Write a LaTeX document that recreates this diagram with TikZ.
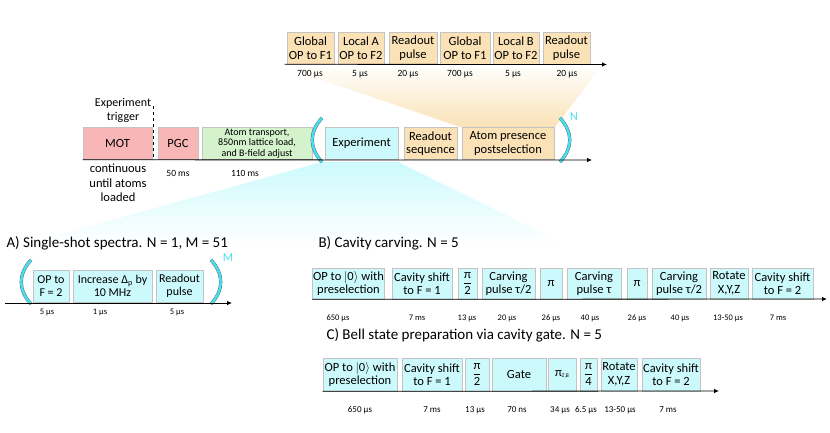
\documentclass[tikz,border=0pt]{standalone}
\usepackage{fontspec}
\setmainfont{Carlito}
\usepackage{amsmath}
\usetikzlibrary{arrows.meta}
\definecolor{beige}{RGB}{250,226,182}
\definecolor{pinkbox}{RGB}{248,182,182}
\definecolor{greenbox}{RGB}{212,242,204}
\definecolor{cyanbox}{RGB}{204,250,252}
\definecolor{cyanline}{RGB}{70,222,236}
\definecolor{boxline}{RGB}{195,195,195}

\begin{document}
\begin{tikzpicture}[x=1pt, y=-1pt,
		every node/.style={font=\fontsize{12.5}{13.5}\selectfont, align=center},
		blk/.style={draw=boxline, line width=0.6pt, inner xsep=0.5pt, inner ysep=0pt},
		dur/.style={font=\fontsize{9}{10}\selectfont},
		axis/.style={line width=0.8pt, -{Latex[length=5pt,width=4.5pt]}},
		brk/.style={draw=black!70, line width=0.3pt, double=cyanline, double distance=2.6pt},
		ttl/.style={font=\fontsize{15}{17}\selectfont, anchor=west},
		rep/.style={text=cyanline, font=\fontsize{12}{13}\selectfont}]
		\useasboundingbox (0,0) rectangle (830,432);
		\shade[top color=beige!5!white, bottom color=beige] (287,68) -- (600,68) -- (555,127) -- (460,127) -- cycle;
		\shade[top color=cyanbox, middle color=cyanbox!95!white, bottom color=white] (322,162) -- (398,162) -- (565,244) -- (25,244) -- cycle;
		\node[blk, fill=beige, minimum width=47pt, minimum height=32pt] (glob1) at (310.5,48) {Global\\OP to F1};
		\node[blk, fill=beige, minimum width=46pt, minimum height=32pt] (locA) at (361,48) {Local A\\OP to F2};
		\node[blk, fill=beige, minimum width=48pt, minimum height=32pt] (rdp1) at (413,48) {Readout\\pulse};
		\node[blk, fill=beige, minimum width=50pt, minimum height=32pt] (glob2) at (465,48) {Global\\OP to F1};
		\node[blk, fill=beige, minimum width=46pt, minimum height=32pt] (locB) at (516,48) {Local B\\OP to F2};
		\node[blk, fill=beige, minimum width=47pt, minimum height=32pt] (rdp2) at (566.5,48) {Readout\\pulse};
		\coordinate (topend) at (607,64.5);
		\draw[axis] ([xshift=-2pt]glob1.south west) -- (topend);
		\node[dur, font=\fontsize{9.5}{10}\selectfont] (tg1) at (310,74) {700 μs};
		\node[dur, font=\fontsize{9.5}{10}\selectfont] (tla) at (360,74) {5 μs};
		\node[dur, font=\fontsize{9.5}{10}\selectfont] (tr1) at (408,74) {20 μs};
		\node[dur, font=\fontsize{9.5}{10}\selectfont] (tg2) at (460,74) {700 μs};
		\node[dur, font=\fontsize{9.5}{10}\selectfont] (tlb) at (513,74) {5 μs};
		\node[dur, font=\fontsize{9.5}{10}\selectfont] (tr2) at (567,74) {20 μs};

		\node[font=\fontsize{12}{14}\selectfont] (trig) at (123,110) {Experiment\\trigger};
		\node[blk, fill=pinkbox, minimum width=69pt, minimum height=32pt] (mot) at (117.5,143.5) {MOT};
		\node[blk, fill=pinkbox, minimum width=40pt, minimum height=32pt] (pgc) at (178,143.5) {PGC};
		\node[blk, fill=greenbox, minimum width=110pt, minimum height=32pt, font=\fontsize{10}{10.5}\selectfont] (transp) at (257,143.5) {Atom transport,\\850nm lattice load,\\and B-field adjust};
		\node[blk, fill=cyanbox, minimum width=73pt, minimum height=32pt] (expt) at (361.5,143.5) {Experiment};
		\node[blk, fill=beige, minimum width=53pt, minimum height=32pt] (rdseq) at (430.5,143.5) {Readout\\sequence};
		\node[blk, fill=beige, minimum width=92pt, minimum height=32pt] (atpres) at (508,143.5) {Atom presence\\postselection};
		\draw[brk] (322,118) .. controls (309,132) and (309,148) .. (322,162);
		\draw[brk] (560,118) .. controls (573,132) and (573,148) .. (560,162);
		\node[rep] (nrep) at (574,117) {N};
		\draw[dashed, line width=0.5pt] (153,106) -- (153,160);
		\coordinate (mainend) at (592,160);
		\draw[axis] (mot.south west) -- (mainend);
		\node[font=\fontsize{12.5}{14.5}\selectfont] (cont) at (118,183) {continuous\\until atoms\\loaded};
		\node[dur, font=\fontsize{9.5}{10}\selectfont] (tpgc) at (178,173) {50 ms};
		\node[dur, font=\fontsize{9.5}{10}\selectfont] (ttr) at (245,173) {110 ms};

		\node[ttl] (ttlA) at (3,243) {A) Single-shot spectra. N = 1, M = 51};
		\node[blk, fill=cyanbox, minimum width=36pt, minimum height=32pt, font=\fontsize{12}{13.5}\selectfont] (opA) at (51,286) {OP to\\F = 2};
		\node[blk, fill=cyanbox, minimum width=79pt, minimum height=32pt, font=\fontsize{12}{13.5}\selectfont] (incr) at (112.5,286) {Increase Δ\textsubscript{p} by\\10 MHz};
		\node[blk, fill=cyanbox, minimum width=47pt, minimum height=32pt, font=\fontsize{12}{13.5}\selectfont] (rdpA) at (179.5,286) {Readout\\pulse};
		\draw[brk] (31,260) .. controls (18,274) and (18,290) .. (31,304);
		\draw[brk] (211,260) .. controls (224,274) and (224,290) .. (211,304);
		\node[rep] (mrep) at (228,258) {M};
		\coordinate (Astart) at (5,303);
		\coordinate (Aend) at (232,303);
		\draw[axis] (Astart) -- (Aend);
		\node[dur, font=\fontsize{8.5}{9}\selectfont] (tA1) at (47,312) {5 μs};
		\node[dur, font=\fontsize{8.5}{9}\selectfont] (tA2) at (100,312) {1 μs};
		\node[dur, font=\fontsize{8.5}{9}\selectfont] (tA3) at (177,312) {5 μs};

		\node[ttl] (ttlB) at (315,243) {B) Cavity carving. N = 5};
		\node[blk, fill=cyanbox, minimum width=71pt, minimum height=31pt] (opB) at (348.5,283.5) {OP to $|$0$\rangle$ with\\preselection};
		\node[blk, fill=cyanbox, minimum width=60pt, minimum height=31pt] (cavB1) at (422,283.5) {Cavity shift\\to F = 1};
		\node[blk, fill=cyanbox, minimum width=19pt, minimum height=31pt] (pitwoB) at (467.5,283.5) {$\dfrac{\text{π}}{\text{2}}$};
		\node[blk, fill=cyanbox, minimum width=53pt, minimum height=31pt] (carvB1) at (508.5,283.5) {Carving\\pulse τ/2};
		\node[blk, fill=cyanbox, minimum width=22pt, minimum height=31pt] (piB1) at (551,283.5) {π};
		\node[blk, fill=cyanbox, minimum width=54pt, minimum height=31pt] (carvB2) at (594,283.5) {Carving\\pulse τ};
		\node[blk, fill=cyanbox, minimum width=20pt, minimum height=31pt] (piB2) at (637,283.5) {π};
		\node[blk, fill=cyanbox, minimum width=54pt, minimum height=31pt] (carvB3) at (679,283.5) {Carving\\pulse τ/2};
		\node[blk, fill=cyanbox, minimum width=38pt, minimum height=31pt] (rotB) at (729,283.5) {Rotate\\X,Y,Z};
		\node[blk, fill=cyanbox, minimum width=61pt, minimum height=31pt] (cavB2) at (782.5,283.5) {Cavity shift\\to F = 2};
		\coordinate (Bend) at (827,299);
		\draw[axis] (opB.south west) -- (Bend);
		\node[dur, font=\fontsize{8.5}{9}\selectfont] (tB1) at (338,318) {650 μs};
		\node[dur, font=\fontsize{8.5}{9}\selectfont] (tB2) at (417,318) {7 ms};
		\node[dur, font=\fontsize{8.5}{9}\selectfont] (tB3) at (467,318) {13 μs};
		\node[dur, font=\fontsize{8.5}{9}\selectfont] (tB4) at (507,318) {20 μs};
		\node[dur, font=\fontsize{8.5}{9}\selectfont] (tB5) at (551,318) {26 μs};
		\node[dur, font=\fontsize{8.5}{9}\selectfont] (tB6) at (590,318) {40 μs};
		\node[dur, font=\fontsize{8.5}{9}\selectfont] (tB7) at (637,318) {26 μs};
		\node[dur, font=\fontsize{8.5}{9}\selectfont] (tB8) at (680,318) {40 μs};
		\node[dur, font=\fontsize{8.5}{9}\selectfont] (tB9) at (728,318) {13-50 μs};
		\node[dur, font=\fontsize{8.5}{9}\selectfont] (tB10) at (778,318) {7 ms};

		\node[ttl] (ttlC) at (323,335) {C) Bell state preparation via cavity gate. N = 5};
		\node[blk, fill=cyanbox, minimum width=74pt, minimum height=33pt] (opC) at (360,374.5) {OP to $|$0$\rangle$ with\\preselection};
		\node[blk, fill=cyanbox, minimum width=60pt, minimum height=33pt] (cavC1) at (432,374.5) {Cavity shift\\to F = 1};
		\node[blk, fill=cyanbox, minimum width=24pt, minimum height=33pt] (pitwoC) at (477,374.5) {$\dfrac{\text{π}}{\text{2}}$};
		\node[blk, fill=cyanbox, minimum width=54pt, minimum height=33pt] (gate) at (519,374.5) {Gate};
		\node[blk, fill=cyanbox, minimum width=28pt, minimum height=33pt] (pizb) at (562,374.5) {π{\fontsize{5.5}{6}\selectfont\raisebox{-1.5pt}{Z,B}}};
		\node[blk, fill=cyanbox, minimum width=17pt, minimum height=33pt] (pifourC) at (588.5,374.5) {$\dfrac{\text{π}}{\text{4}}$};
		\node[blk, fill=cyanbox, minimum width=36pt, minimum height=33pt] (rotC) at (619,374.5) {Rotate\\X,Y,Z};
		\node[blk, fill=cyanbox, minimum width=58pt, minimum height=33pt] (cavC2) at (671,374.5) {Cavity shift\\to F = 2};
		\coordinate (Cend) at (719,391);
		\draw[axis] (opC.south west) -- (Cend);
		\node[dur] (tC1) at (360,410) {650 μs};
		\node[dur] (tC2) at (432,410) {7 ms};
		\node[dur] (tC3) at (475,410) {13 μs};
		\node[dur] (tC4) at (517,410) {70 ns};
		\node[dur] (tC5) at (560,410) {34 μs};
		\node[dur] (tC6) at (586,410) {6.5 μs};
		\node[dur] (tC7) at (620,410) {13-50 μs};
		\node[dur] (tC8) at (668,410) {7 ms};
	\end{tikzpicture}
\end{document}
